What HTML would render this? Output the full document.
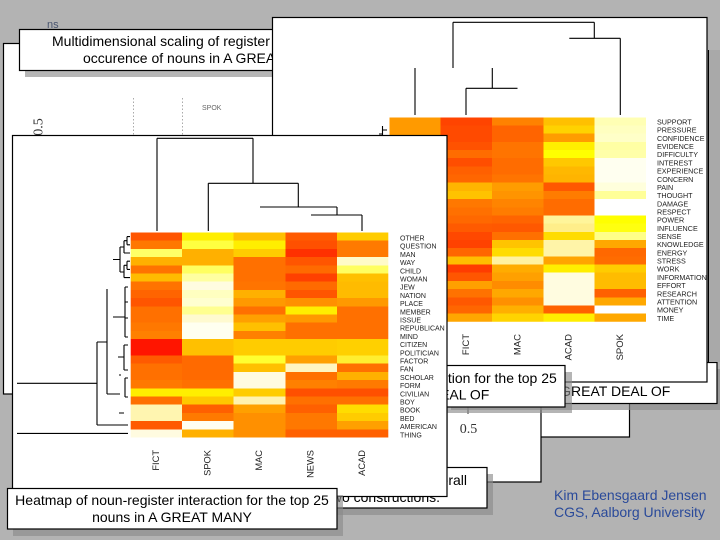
<!DOCTYPE html>
<html><head><meta charset="utf-8"><style>
html,body{margin:0;padding:0;background:#b3b3b3;}
svg{display:block;}
text{font-family:"Liberation Sans",Arial,sans-serif;}
</style></head><body>
<svg width="720" height="540" viewBox="0 0 720 540" xmlns="http://www.w3.org/2000/svg">
<rect width="720" height="540" fill="#b3b3b3"/>
<text x="47" y="28" font-size="11" fill="#4a5670">ns</text>

<!-- MDS panel (bottom layer) -->
<rect x="3.5" y="43.5" width="626" height="350.5" fill="#fff" stroke="#000" stroke-width="1.2"/>
<rect x="447" y="380" width="182.5" height="57" fill="#fff" stroke="#000" stroke-width="1.2"/>
<rect x="447" y="380" width="94" height="102" fill="#fff" stroke="#000" stroke-width="1.2"/>
<line x1="133.5" y1="98" x2="133.5" y2="135" stroke="#aaa" stroke-dasharray="1.5,2"/>
<line x1="182.5" y1="98" x2="182.5" y2="135" stroke="#aaa" stroke-dasharray="1.5,2"/>
<text x="202" y="110" font-size="7" fill="#666">SPOK</text>
<text transform="translate(42.5,127) rotate(-90)" text-anchor="middle" style="font-family:'Liberation Serif',serif" font-size="14" fill="#333">0.5</text>
<line x1="468" y1="405" x2="468" y2="414" stroke="#333"/>
<text x="468.5" y="433" text-anchor="middle" style="font-family:'Liberation Serif',serif" font-size="14" fill="#333">0.5</text>

<!-- MDS caption -->
<rect x="25" y="36" width="380" height="41" fill="rgba(138,138,138,0.63)"/>
<rect x="19.5" y="29.5" width="380" height="41" fill="#fff" stroke="#000" stroke-width="1.2"/>
<text x="52" y="46" font-size="14">Multidimensional scaling of register variation in the</text>
<text x="83" y="63" font-size="14">occurence of nouns in A GREAT DEAL OF</text>

<!-- DEAL OF caption (under right panel) -->
<rect x="451" y="369" width="272" height="41" fill="rgba(138,138,138,0.63)"/>
<rect x="445.5" y="362.5" width="271.5" height="41" fill="#fff" stroke="#000" stroke-width="1.2"/>
<text x="581" y="396" text-anchor="middle" font-size="14">nouns in A GREAT DEAL OF</text>

<!-- Right heatmap panel -->
<rect x="272.5" y="17.5" width="434.5" height="364.5" fill="#fff" stroke="#000" stroke-width="1.2"/>
<path d="M453 22.3H594.3 M453 22.3V68 M594.3 22.3V38.3 M569.3 38.3H620.3 M620.3 38.3V115 M415 68V115 M492.3 68V88.3 M466 88.3H517.5 M466 88.3V115 M382.5 126V135 M382.5 130H387 M379 134H382.5" stroke="#000" stroke-width="1.1" fill="none"/>
<svg x="389.3" y="117.3" width="256.7" height="204.5" viewBox="0 0 5 25" preserveAspectRatio="none" shape-rendering="crispEdges">
<g>
<rect x="0" y="0" width="1" height="25" fill="#ff8a00"/>
<rect x="0" y="0" width="1" height="3" fill="#ff9a00"/>
</g>
<g transform="translate(1,0)">
<rect y="0" width="1" height="1" fill="#ff4400"/><rect y="1" width="1" height="1" fill="#ff4a00"/><rect y="2" width="1" height="1" fill="#ff4a00"/><rect y="3" width="1" height="1" fill="#ff5200"/><rect y="4" width="1" height="1" fill="#ff6c00"/><rect y="5" width="1" height="1" fill="#ff4e00"/><rect y="6" width="1" height="1" fill="#ff6000"/><rect y="7" width="1" height="1" fill="#ff6600"/><rect y="8" width="1" height="1" fill="#ffb400"/><rect y="9" width="1" height="1" fill="#ffc200"/><rect y="10" width="1" height="1" fill="#ff7800"/><rect y="11" width="1" height="1" fill="#ff7000"/><rect y="12" width="1" height="1" fill="#ff6800"/><rect y="13" width="1" height="1" fill="#ff5a00"/><rect y="14" width="1" height="1" fill="#ff4800"/><rect y="15" width="1" height="1" fill="#ff4200"/><rect y="16" width="1" height="1" fill="#ff6600"/><rect y="17" width="1" height="1" fill="#ffbe00"/><rect y="18" width="1" height="1" fill="#ff3c00"/><rect y="19" width="1" height="1" fill="#ff5600"/><rect y="20" width="1" height="1" fill="#ffa000"/><rect y="21" width="1" height="1" fill="#ff7200"/><rect y="22" width="1" height="1" fill="#ff5800"/><rect y="23" width="1" height="1" fill="#ff6600"/><rect y="24" width="1" height="1" fill="#ffa600"/>
</g>
<g transform="translate(2,0)">
<rect y="0" width="1" height="1" fill="#ff8200"/><rect y="1" width="1" height="1" fill="#ff6400"/><rect y="2" width="1" height="1" fill="#ff6400"/><rect y="3" width="1" height="1" fill="#ff7400"/><rect y="4" width="1" height="1" fill="#ff7400"/><rect y="5" width="1" height="1" fill="#ff6c00"/><rect y="6" width="1" height="1" fill="#ff6c00"/><rect y="7" width="1" height="1" fill="#ff7400"/><rect y="8" width="1" height="1" fill="#ff9c00"/><rect y="9" width="1" height="1" fill="#ff9400"/><rect y="10" width="1" height="1" fill="#ff8400"/><rect y="11" width="1" height="1" fill="#ff7c00"/><rect y="12" width="1" height="1" fill="#ff6400"/><rect y="13" width="1" height="1" fill="#ff5800"/><rect y="14" width="1" height="1" fill="#ff7000"/><rect y="15" width="1" height="1" fill="#ffc400"/><rect y="16" width="1" height="1" fill="#ffdc00"/><rect y="17" width="1" height="1" fill="#fff2a0"/><rect y="18" width="1" height="1" fill="#ffac00"/><rect y="19" width="1" height="1" fill="#ffa000"/><rect y="20" width="1" height="1" fill="#ff8c00"/><rect y="21" width="1" height="1" fill="#ffa800"/><rect y="22" width="1" height="1" fill="#ff9000"/><rect y="23" width="1" height="1" fill="#ffb000"/><rect y="24" width="1" height="1" fill="#ffd400"/>
</g>
<g transform="translate(3,0)">
<rect y="0" width="1" height="1" fill="#ffc000"/><rect y="1" width="1" height="1" fill="#ffd200"/><rect y="2" width="1" height="1" fill="#ff9c00"/><rect y="3" width="1" height="1" fill="#ffee00"/><rect y="4" width="1" height="1" fill="#ffff00"/><rect y="5" width="1" height="1" fill="#ffc800"/><rect y="6" width="1" height="1" fill="#ffb800"/><rect y="7" width="1" height="1" fill="#ffb400"/><rect y="8" width="1" height="1" fill="#ff5800"/><rect y="9" width="1" height="1" fill="#ff7c00"/><rect y="10" width="1" height="1" fill="#ff6c00"/><rect y="11" width="1" height="1" fill="#ff6c00"/><rect y="12" width="1" height="1" fill="#fff59a"/><rect y="13" width="1" height="1" fill="#ffee8a"/><rect y="14" width="1" height="1" fill="#ffdc00"/><rect y="15" width="1" height="1" fill="#fff4a8"/><rect y="16" width="1" height="1" fill="#fff4a8"/><rect y="17" width="1" height="1" fill="#ffa400"/><rect y="18" width="1" height="1" fill="#ffee00"/><rect y="19" width="1" height="1" fill="#fffce0"/><rect y="20" width="1" height="1" fill="#fffce0"/><rect y="21" width="1" height="1" fill="#fffce0"/><rect y="22" width="1" height="1" fill="#fffce0"/><rect y="23" width="1" height="1" fill="#ff6200"/><rect y="24" width="1" height="1" fill="#ffee00"/>
</g>
<g transform="translate(4,0)">
<rect y="0" width="1" height="1" fill="#ffffb4"/><rect y="1" width="1" height="1" fill="#ffffc0"/><rect y="2" width="1" height="1" fill="#ffffc8"/><rect y="3" width="1" height="1" fill="#ffffa4"/><rect y="4" width="1" height="1" fill="#ffffa8"/><rect y="5" width="1" height="1" fill="#fffff0"/><rect y="6" width="1" height="1" fill="#fffff0"/><rect y="7" width="1" height="1" fill="#fffff0"/><rect y="8" width="1" height="1" fill="#ffffdc"/><rect y="9" width="1" height="1" fill="#ffff98"/><rect y="10" width="1" height="1" fill="#ffffff"/><rect y="11" width="1" height="1" fill="#ffffff"/><rect y="12" width="1" height="1" fill="#ffff00"/><rect y="13" width="1" height="1" fill="#ffff10"/><rect y="14" width="1" height="1" fill="#ffff88"/><rect y="15" width="1" height="1" fill="#ffa800"/><rect y="16" width="1" height="1" fill="#ff6800"/><rect y="17" width="1" height="1" fill="#ff6c00"/><rect y="18" width="1" height="1" fill="#ffcc00"/><rect y="19" width="1" height="1" fill="#ffbc00"/><rect y="20" width="1" height="1" fill="#ffbc00"/><rect y="21" width="1" height="1" fill="#ff6000"/><rect y="22" width="1" height="1" fill="#ffa800"/><rect y="23" width="1" height="1" fill="#ffffff"/><rect y="24" width="1" height="1" fill="#ffa800"/>
</g>
</svg>
<g font-size="7.2" fill="#222">
<text x="657" y="124.5">SUPPORT</text><text x="657" y="132.7">PRESSURE</text><text x="657" y="140.9">CONFIDENCE</text><text x="657" y="149.0">EVIDENCE</text><text x="657" y="157.2">DIFFICULTY</text><text x="657" y="165.4">INTEREST</text><text x="657" y="173.6">EXPERIENCE</text><text x="657" y="181.8">CONCERN</text><text x="657" y="189.9">PAIN</text><text x="657" y="198.1">THOUGHT</text><text x="657" y="206.3">DAMAGE</text><text x="657" y="214.5">RESPECT</text><text x="657" y="222.7">POWER</text><text x="657" y="230.8">INFLUENCE</text><text x="657" y="239.0">SENSE</text><text x="657" y="247.2">KNOWLEDGE</text><text x="657" y="255.4">ENERGY</text><text x="657" y="263.6">STRESS</text><text x="657" y="271.7">WORK</text><text x="657" y="279.9">INFORMATION</text><text x="657" y="288.1">EFFORT</text><text x="657" y="296.3">RESEARCH</text><text x="657" y="304.5">ATTENTION</text><text x="657" y="312.6">MONEY</text><text x="657" y="320.8">TIME</text>
</g>
<g font-size="9.5" fill="#222" text-anchor="end">
<text transform="translate(418,334) rotate(-90)">NEWS</text>
<text transform="translate(469,334) rotate(-90)">FICT</text>
<text transform="translate(520.5,334) rotate(-90)">MAC</text>
<text transform="translate(571.5,334) rotate(-90)">ACAD</text>
<text transform="translate(623,334) rotate(-90)">SPOK</text>
</g>

<!-- right strip -->
<rect x="709" y="50" width="11" height="312" fill="#a9a9a9"/>
<line x1="708.5" y1="50" x2="708.5" y2="362" stroke="#000"/>

<!-- top 25 caption -->
<rect x="241" y="372" width="331" height="41" fill="rgba(138,138,138,0.63)"/>
<rect x="235.5" y="365.5" width="329.5" height="41.5" fill="#fff" stroke="#000" stroke-width="1.2"/>
<text x="400" y="383" text-anchor="middle" font-size="14">Heatmap of noun-register interaction for the top 25</text>
<text x="400" y="399.5" text-anchor="middle" font-size="14">nouns in A GREAT DEAL OF</text>

<!-- overall caption -->
<rect x="256" y="474" width="237" height="41" fill="rgba(138,138,138,0.63)"/>
<rect x="250.5" y="467.5" width="236.5" height="40.5" fill="#fff" stroke="#000" stroke-width="1.2"/>
<text x="467" y="485" text-anchor="end" font-size="14">Collostructional analysis: overall</text>
<text x="440" y="502" text-anchor="end" font-size="14">distinctiveness of the two constructions.</text>

<!-- Left heatmap panel -->
<rect x="12.5" y="135.5" width="434.5" height="361" fill="#fff" stroke="#000" stroke-width="1.2"/>
<path d="M157 138.3H253 M157 138.3V231 M253 138.3V183.3 M208.3 183.3H298.3 M208.3 183.3V231 M298.3 183.3V207 M260 207H337 M337 207V215 M311 215H362 M362 215V231" stroke="#000" stroke-width="1.1" fill="none"/>
<path d="M113 259.5H120 M120 247V272 M120 247H124 M124 240.7V253 M124 240.7H127 M127 236.6V244.8 M127 236.6H130 M127 244.8H130 M124 253H130 M120 272H124 M124 265.3V277.6 M124 265.3H127 M127 261.2V269.4 M127 261.2H130 M127 269.4H130 M124 277.6H130
M107 289V394 M113 317H125 M125 287V337 M125 287H128 M125 302H128 M125 318H128 M125 337H128
M97 342H107 M97 342V425 M17 383.3H97 M97 425H128 M17 433.4H128 M107 394H120
M118 357H124 M124 345V370 M124 345H128 M124 370H128 M119 375H121 M125 378V397 M125 378H128 M125 397H128 M119 413H124" stroke="#000" stroke-width="1.1" fill="none"/>
<svg x="130.7" y="232.5" width="257.6" height="205" viewBox="0 0 5 25" preserveAspectRatio="none" shape-rendering="crispEdges">
<g>
<rect y="0" width="1" height="1" fill="#ff5500"/><rect y="1" width="1" height="1" fill="#ff7800"/><rect y="2" width="1" height="1" fill="#ffff66"/><rect y="3" width="1" height="1" fill="#ffb000"/><rect y="4" width="1" height="1" fill="#ff7300"/><rect y="5" width="1" height="1" fill="#ffbb00"/><rect y="6" width="1" height="1" fill="#ff7300"/><rect y="7" width="1" height="1" fill="#ff6400"/><rect y="8" width="1" height="1" fill="#ff5500"/><rect y="9" width="1" height="1" fill="#ff7000"/><rect y="10" width="1" height="1" fill="#ff7000"/><rect y="11" width="1" height="1" fill="#ff7800"/><rect y="12" width="1" height="1" fill="#ff8000"/><rect y="13" width="1" height="1" fill="#ff1500"/><rect y="14" width="1" height="1" fill="#ff1500"/><rect y="15" width="1" height="1" fill="#ff5a00"/><rect y="16" width="1" height="1" fill="#ff7000"/><rect y="17" width="1" height="1" fill="#ff7000"/><rect y="18" width="1" height="1" fill="#ff7800"/><rect y="19" width="1" height="1" fill="#ffee00"/><rect y="20" width="1" height="1" fill="#ff7000"/><rect y="21" width="1" height="1" fill="#fff5b0"/><rect y="22" width="1" height="1" fill="#fff5b0"/><rect y="23" width="1" height="1" fill="#ff5a00"/><rect y="24" width="1" height="1" fill="#fffbe0"/>
</g>
<g transform="translate(1,0)">
<rect y="0" width="1" height="1" fill="#ffee00"/><rect y="1" width="1" height="1" fill="#ffff40"/><rect y="2" width="1" height="1" fill="#ffb000"/><rect y="3" width="1" height="1" fill="#ffb000"/><rect y="4" width="1" height="1" fill="#ffff60"/><rect y="5" width="1" height="1" fill="#ffffa0"/><rect y="6" width="1" height="1" fill="#fffce0"/><rect y="7" width="1" height="1" fill="#ffffc0"/><rect y="8" width="1" height="1" fill="#ffffd0"/><rect y="9" width="1" height="1" fill="#ffff90"/><rect y="10" width="1" height="1" fill="#fffad0"/><rect y="11" width="1" height="1" fill="#fffff0"/><rect y="12" width="1" height="1" fill="#fffff0"/><rect y="13" width="1" height="1" fill="#ffc000"/><rect y="14" width="1" height="1" fill="#ffc000"/><rect y="15" width="1" height="1" fill="#ff6a00"/><rect y="16" width="1" height="1" fill="#ff6a00"/><rect y="17" width="1" height="1" fill="#ff6a00"/><rect y="18" width="1" height="1" fill="#ff7000"/><rect y="19" width="1" height="1" fill="#ffee00"/><rect y="20" width="1" height="1" fill="#ffc800"/><rect y="21" width="1" height="1" fill="#ff6000"/><rect y="22" width="1" height="1" fill="#ff7a00"/><rect y="23" width="1" height="1" fill="#fffff0"/><rect y="24" width="1" height="1" fill="#ffb000"/>
</g>
<g transform="translate(2,0)">
<rect y="0" width="1" height="1" fill="#ffc000"/><rect y="1" width="1" height="1" fill="#ffee00"/><rect y="2" width="1" height="1" fill="#ffcc00"/><rect y="3" width="1" height="1" fill="#ff7000"/><rect y="4" width="1" height="1" fill="#ff7000"/><rect y="5" width="1" height="1" fill="#ff7000"/><rect y="6" width="1" height="1" fill="#ff7400"/><rect y="7" width="1" height="1" fill="#ffb000"/><rect y="8" width="1" height="1" fill="#ff9900"/><rect y="9" width="1" height="1" fill="#ff7000"/><rect y="10" width="1" height="1" fill="#ffa000"/><rect y="11" width="1" height="1" fill="#ffc000"/><rect y="12" width="1" height="1" fill="#ff8000"/><rect y="13" width="1" height="1" fill="#ffcc00"/><rect y="14" width="1" height="1" fill="#ffcc00"/><rect y="15" width="1" height="1" fill="#ffff30"/><rect y="16" width="1" height="1" fill="#ffc000"/><rect y="17" width="1" height="1" fill="#fffbe0"/><rect y="18" width="1" height="1" fill="#fffbe0"/><rect y="19" width="1" height="1" fill="#ffcc00"/><rect y="20" width="1" height="1" fill="#fff2b0"/><rect y="21" width="1" height="1" fill="#ffa000"/><rect y="22" width="1" height="1" fill="#ff9000"/><rect y="23" width="1" height="1" fill="#ff9000"/><rect y="24" width="1" height="1" fill="#ff9000"/>
</g>
<g transform="translate(3,0)">
<rect y="0" width="1" height="1" fill="#ff5a00"/><rect y="1" width="1" height="1" fill="#ff5000"/><rect y="2" width="1" height="1" fill="#ff3000"/><rect y="3" width="1" height="1" fill="#ff5500"/><rect y="4" width="1" height="1" fill="#ff6a00"/><rect y="5" width="1" height="1" fill="#ff4000"/><rect y="6" width="1" height="1" fill="#ff6a00"/><rect y="7" width="1" height="1" fill="#ff5500"/><rect y="8" width="1" height="1" fill="#ff9000"/><rect y="9" width="1" height="1" fill="#ffee00"/><rect y="10" width="1" height="1" fill="#ff9900"/><rect y="11" width="1" height="1" fill="#ff7000"/><rect y="12" width="1" height="1" fill="#ff7000"/><rect y="13" width="1" height="1" fill="#ffcc00"/><rect y="14" width="1" height="1" fill="#ffcc00"/><rect y="15" width="1" height="1" fill="#ffa000"/><rect y="16" width="1" height="1" fill="#fff5c0"/><rect y="17" width="1" height="1" fill="#ff7000"/><rect y="18" width="1" height="1" fill="#ff8000"/><rect y="19" width="1" height="1" fill="#ff5000"/><rect y="20" width="1" height="1" fill="#ff7000"/><rect y="21" width="1" height="1" fill="#ff6000"/><rect y="22" width="1" height="1" fill="#ff7800"/><rect y="23" width="1" height="1" fill="#ff7800"/><rect y="24" width="1" height="1" fill="#ff6000"/>
</g>
<g transform="translate(4,0)">
<rect y="0" width="1" height="1" fill="#ffcc00"/><rect y="1" width="1" height="1" fill="#ff7a00"/><rect y="2" width="1" height="1" fill="#ff7a00"/><rect y="3" width="1" height="1" fill="#fffbc8"/><rect y="4" width="1" height="1" fill="#ffff60"/><rect y="5" width="1" height="1" fill="#ffc000"/><rect y="6" width="1" height="1" fill="#ffbb00"/><rect y="7" width="1" height="1" fill="#ffbb00"/><rect y="8" width="1" height="1" fill="#ff9900"/><rect y="9" width="1" height="1" fill="#ff7000"/><rect y="10" width="1" height="1" fill="#ff7000"/><rect y="11" width="1" height="1" fill="#ff7000"/><rect y="12" width="1" height="1" fill="#ff7000"/><rect y="13" width="1" height="1" fill="#ffd000"/><rect y="14" width="1" height="1" fill="#ffd000"/><rect y="15" width="1" height="1" fill="#ffee30"/><rect y="16" width="1" height="1" fill="#ff7000"/><rect y="17" width="1" height="1" fill="#ffb000"/><rect y="18" width="1" height="1" fill="#ff7a00"/><rect y="19" width="1" height="1" fill="#ff5000"/><rect y="20" width="1" height="1" fill="#ff7000"/><rect y="21" width="1" height="1" fill="#ffdd00"/><rect y="22" width="1" height="1" fill="#ffcc00"/><rect y="23" width="1" height="1" fill="#ffa000"/><rect y="24" width="1" height="1" fill="#ff6000"/>
</g>
</svg>
<g font-size="7" fill="#222">
<text x="400" y="240.5">OTHER</text><text x="400" y="248.7">QUESTION</text><text x="400" y="256.9">MAN</text><text x="400" y="265.1">WAY</text><text x="400" y="273.3">CHILD</text><text x="400" y="281.5">WOMAN</text><text x="400" y="289.7">JEW</text><text x="400" y="297.9">NATION</text><text x="400" y="306.1">PLACE</text><text x="400" y="314.3">MEMBER</text><text x="400" y="322.5">ISSUE</text><text x="400" y="330.7">REPUBLICAN</text><text x="400" y="338.9">MIND</text><text x="400" y="347.1">CITIZEN</text><text x="400" y="355.3">POLITICIAN</text><text x="400" y="363.5">FACTOR</text><text x="400" y="371.7">FAN</text><text x="400" y="379.9">SCHOLAR</text><text x="400" y="388.1">FORM</text><text x="400" y="396.3">CIVILIAN</text><text x="400" y="404.5">BOY</text><text x="400" y="412.7">BOOK</text><text x="400" y="420.9">BED</text><text x="400" y="429.1">AMERICAN</text><text x="400" y="437.3">THING</text>
</g>
<g font-size="9.3" fill="#222" text-anchor="end">
<text transform="translate(159,450) rotate(-90)">FICT</text>
<text transform="translate(210.5,450) rotate(-90)">SPOK</text>
<text transform="translate(262,450) rotate(-90)">MAC</text>
<text transform="translate(313.5,450) rotate(-90)">NEWS</text>
<text transform="translate(365,450) rotate(-90)">ACAD</text>
</g>

<!-- bottom-left caption -->
<rect x="13" y="495" width="330" height="41" fill="rgba(138,138,138,0.63)"/>
<rect x="7.5" y="488.5" width="329.5" height="40.5" fill="#fff" stroke="#000" stroke-width="1.2"/>
<text x="172" y="505" text-anchor="middle" font-size="14">Heatmap of noun-register interaction for the top 25</text>
<text x="172" y="522" text-anchor="middle" font-size="14">nouns in A GREAT MANY</text>

<!-- author -->
<text x="554" y="500" font-size="14" fill="#2a4a9a">Kim Ebensgaard Jensen</text>
<text x="554" y="517" font-size="14" fill="#2a4a9a">CGS, Aalborg University</text>
</svg>
</body></html>
